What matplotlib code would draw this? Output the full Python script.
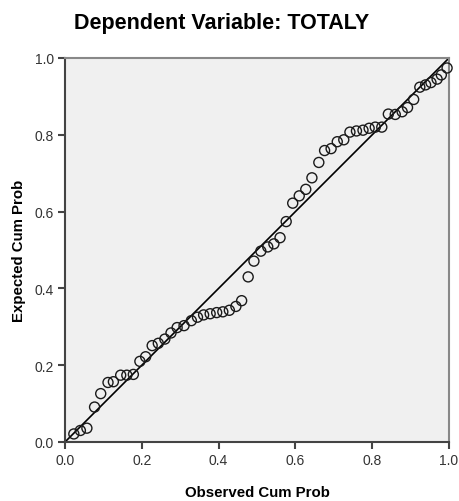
import matplotlib
matplotlib.use("Agg")
import matplotlib.pyplot as plt

# Normal P-P plot of regression standardized residual
observed = [0.023, 0.040, 0.057, 0.077, 0.093, 0.112, 0.126, 0.145, 0.161, 0.178,
            0.195, 0.210, 0.227, 0.243, 0.260, 0.276, 0.292, 0.310, 0.329, 0.345,
            0.361, 0.378, 0.395, 0.411, 0.428, 0.445, 0.460, 0.477, 0.492, 0.510,
            0.528, 0.544, 0.560, 0.576, 0.593, 0.610, 0.627, 0.643, 0.661, 0.676,
            0.693, 0.709, 0.726, 0.742, 0.759, 0.776, 0.792, 0.808, 0.825, 0.842,
            0.860, 0.878, 0.892, 0.908, 0.924, 0.939, 0.953, 0.969, 0.980, 0.995]
expected = [0.021, 0.030, 0.036, 0.091, 0.126, 0.155, 0.157, 0.174, 0.174, 0.176,
            0.210, 0.222, 0.251, 0.257, 0.268, 0.284, 0.298, 0.303, 0.316, 0.325,
            0.331, 0.334, 0.337, 0.339, 0.343, 0.353, 0.368, 0.430, 0.471, 0.497,
            0.508, 0.516, 0.532, 0.574, 0.622, 0.641, 0.658, 0.688, 0.728, 0.759,
            0.764, 0.782, 0.787, 0.807, 0.810, 0.812, 0.817, 0.820, 0.820, 0.854,
            0.853, 0.860, 0.871, 0.892, 0.924, 0.930, 0.936, 0.945, 0.956, 0.974]
ref_line = [0.0, 1.0]
ticks = [0.0, 0.2, 0.4, 0.6, 0.8, 1.0]
tick_labels = ["0.0", "0.2", "0.4", "0.6", "0.8", "1.0"]

plt.rcParams['font.family'] = ['Liberation Sans', 'DejaVu Sans']

W, H = 459, 502
fig = plt.figure(figsize=(W / 100, H / 100), dpi=100, facecolor='white')
ax = fig.add_axes([65 / W, (H - 443) / H, 384 / W, 384 / H])
ax.set_facecolor('#f0f0f0')

ax.plot(ref_line, ref_line, color='black', linewidth=1.2, zorder=2)
ax.scatter(observed, expected, s=52, facecolors='none', edgecolors='#1a1a1a',
           linewidths=1.0, zorder=3, clip_on=False)

ax.set_xlim(0, 1)
ax.set_ylim(0, 1)
ax.set_xticks(ticks)
ax.set_xticklabels(tick_labels)
ax.set_yticks(ticks)
ax.set_yticklabels(tick_labels)
ax.tick_params(direction='out', length=5, width=1.5, color='#444444',
               labelsize=10, labelcolor='#333333', pad=3,
               top=False, right=False)

for side in ['left', 'bottom']:
    ax.spines[side].set_color('#444444')
    ax.spines[side].set_linewidth(1.5)
for side in ['top', 'right']:
    ax.spines[side].set_color('#888888')
    ax.spines[side].set_linewidth(1.5)

ax.set_xlabel('Observed Cum Prob', fontsize=10.8, fontweight='bold', labelpad=13)
ax.set_ylabel('Expected Cum Prob', fontsize=10.8, fontweight='bold', labelpad=6)

fig.text(222 / W, 1 - 24 / H, 'Dependent Variable: TOTALY', ha='center', va='center',
         fontsize=15.5, fontweight='bold')

fig.savefig('out.png', dpi=100, facecolor='white')
